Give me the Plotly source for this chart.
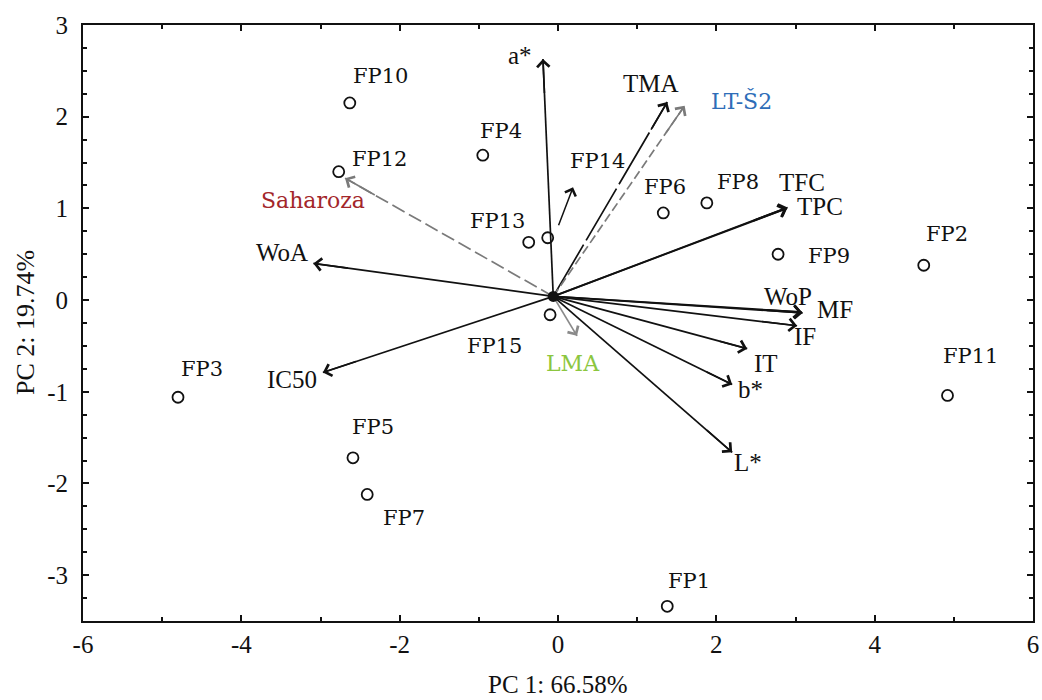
import plotly.graph_objects as go

# ---------------- data ----------------
samples = ["FP1", "FP2", "FP3", "FP4", "FP5", "FP6", "FP7", "FP8",
           "FP9", "FP10", "FP11", "FP12", "FP13", "FP14", "FP15"]
pc1_scores = [1.38, 4.62, -4.80, -0.95, -2.59, 1.33, -2.41, 1.88,
              2.78, -2.63, 4.92, -2.77, -0.37, -0.13, -0.10]
pc2_scores = [-3.34, 0.38, -1.06, 1.58, -1.72, 0.95, -2.12, 1.06,
              0.50, 2.15, -1.04, 1.40, 0.63, 0.68, -0.16]

variables = ["a*", "TMA", "LT-Š2", "Saharoza", "WoA", "IC50", "TFC", "TPC",
             "WoP", "MF", "IF", "IT", "b*", "L*", "LMA"]
load_pc1 = [-0.19, 1.38, 1.60, -2.69, -3.09, -2.97, 2.89, 2.90,
            3.08, 3.09, 3.02, 2.39, 2.20, 2.20, 0.24]
load_pc2 = [2.63, 2.16, 2.12, 1.33, 0.40, -0.79, 1.00, 1.01,
            -0.13, -0.14, -0.28, -0.53, -0.92, -1.66, -0.39]

origin = (-0.06, 0.04)
fp14_pointer = ((0.0, 0.80), (0.19, 1.23))

x_tick_vals = [-6, -4, -2, 0, 2, 4, 6]
x_tick_text = ["-6", "-4", "-2", "0", "2", "4", "6"]
y_tick_vals = [-3, -2, -1, 0, 1, 2, 3]
y_tick_text = ["-3", "-2", "-1", "0", "1", "2", "3"]

x_title = "PC 1: 66.58%"
y_title = "PC 2: 19.74%"

# ---------------- styles ----------------
sample_label_offset = {
    "FP1": (22, 25), "FP2": (23, 31), "FP3": (24, 28), "FP4": (18, 24),
    "FP5": (20, 31), "FP6": (2, 26), "FP7": (37, -24), "FP8": (31, 21),
    "FP9": (51, -2), "FP10": (31, 27), "FP11": (23, 39), "FP12": (41, 13),
    "FP13": (-31, 21), "FP14": (50, 77), "FP15": (-56, -31),
}
var_label_offset = {
    "a*": (-23, 3), "TMA": (-16, 19), "LT-Š2": (57, 5), "Saharoza": (-32, -22),
    "WoA": (-31, 11), "IC50": (-31, -7), "TFC": (15, 26), "TPC": (32, 1),
    "WoP": (-14, 16), "MF": (32, 3), "IF": (8, -11), "IT": (19, -15),
    "b*": (18, -5), "L*": (16, -10), "LMA": (-4, -28),
}
special_var = {  # label colour, line colour, dash
    "LT-Š2": ("#2E6DB8", "#7a7a7a", "9px,4px"),
    "Saharoza": ("#A3262A", "#7a7a7a", "14px,5px"),
    "LMA": ("#8CC63F", "#8a8a8a", "solid"),
    "TMA": ("#111111", "#111111", "60px,5px"),
}
SERIF = "Liberation Serif, Times New Roman, serif"
FPFONT = "DejaVu Serif, serif"

fig = go.Figure()

# vector lines
annotations = []
for name, vx, vy in zip(variables, load_pc1, load_pc2):
    lab_col, line_col, dash = special_var.get(name, ("#111111", "#111111", "solid"))
    fig.add_trace(go.Scatter(x=[origin[0], vx], y=[origin[1], vy], mode="lines",
                             line=dict(color=line_col, width=1.7, dash=dash),
                             hoverinfo="skip", showlegend=False))
    tx = origin[0] + 0.85 * (vx - origin[0])
    ty = origin[1] + 0.85 * (vy - origin[1])
    annotations.append(dict(x=vx, y=vy, ax=tx, ay=ty, xref="x", yref="y",
                            axref="x", ayref="y", text="", showarrow=True,
                            arrowhead=4, arrowsize=1.5, arrowwidth=1.6,
                            arrowcolor=line_col, standoff=0))
    dx, dy = var_label_offset[name]
    is_colored = name in ("LT-Š2", "Saharoza", "LMA")
    annotations.append(dict(x=vx, y=vy, xref="x", yref="y", text=name,
                            showarrow=False, xshift=dx, yshift=dy,
                            xanchor="center", yanchor="middle",
                            font=dict(family=FPFONT if is_colored else SERIF,
                                      size=22 if is_colored else 25,
                                      color=lab_col)))

# FP14 pointer arrow
(p0x, p0y), (p1x, p1y) = fp14_pointer
annotations.append(dict(x=p1x, y=p1y, ax=p0x, ay=p0y, xref="x", yref="y",
                        axref="x", ayref="y", text="", showarrow=True,
                        arrowhead=4, arrowsize=1.5, arrowwidth=1.5,
                        arrowcolor="#111111", standoff=0))

# sample points
fig.add_trace(go.Scatter(x=pc1_scores, y=pc2_scores, mode="markers",
                         marker=dict(symbol="circle-open", size=11,
                                     color="#111111", line=dict(width=1.8)),
                         hoverinfo="text", text=samples, showlegend=False))
# centre dot
fig.add_trace(go.Scatter(x=[origin[0]], y=[origin[1]], mode="markers",
                         marker=dict(size=11, color="#111111"),
                         hoverinfo="skip", showlegend=False))

for name, sx, sy in zip(samples, pc1_scores, pc2_scores):
    dx, dy = sample_label_offset[name]
    annotations.append(dict(x=sx, y=sy, xref="x", yref="y", text=name,
                            showarrow=False, xshift=dx, yshift=dy,
                            xanchor="center", yanchor="middle",
                            font=dict(family=FPFONT, size=21, color="#111111")))

# axis titles
annotations.append(dict(x=0.5, y=-0.106, xref="paper", yref="paper", text=x_title,
                        showarrow=False, xanchor="center", yanchor="middle",
                        font=dict(family=SERIF, size=25, color="#111111")))
annotations.append(dict(x=-0.061, y=0.5, xref="paper", yref="paper", text=y_title,
                        showarrow=False, xanchor="center", yanchor="middle",
                        textangle=-90,
                        font=dict(family=SERIF, size=26, color="#111111")))

axis_common = dict(showgrid=False, zeroline=False, showline=True,
                   linecolor="#111111", linewidth=2, mirror="ticks",
                   ticks="inside", ticklen=6, tickwidth=1.5, tickcolor="#111111",
                   tickfont=dict(family=SERIF, size=25, color="#111111"),
                   tickmode="array", automargin=False)

fig.update_layout(
    width=1042, height=700, autosize=False,
    margin=dict(l=83, r=9, t=25, b=79),
    paper_bgcolor="white", plot_bgcolor="white",
    annotations=annotations,
    xaxis=dict(range=[-6, 6], tickvals=x_tick_vals, ticktext=x_tick_text,
               minor=dict(dtick=1, ticks="inside", ticklen=4,
                          tickcolor="#111111", tickwidth=1.5),
               **axis_common),
    yaxis=dict(range=[-3.5, 3], tickvals=y_tick_vals, ticktext=y_tick_text,
               ticklabelstandoff=8,
               minor=dict(dtick=0.25, tick0=0, ticks="inside", ticklen=4,
                          tickcolor="#111111", tickwidth=1.5),
               **axis_common),
)

fig.write_html("out.html")
